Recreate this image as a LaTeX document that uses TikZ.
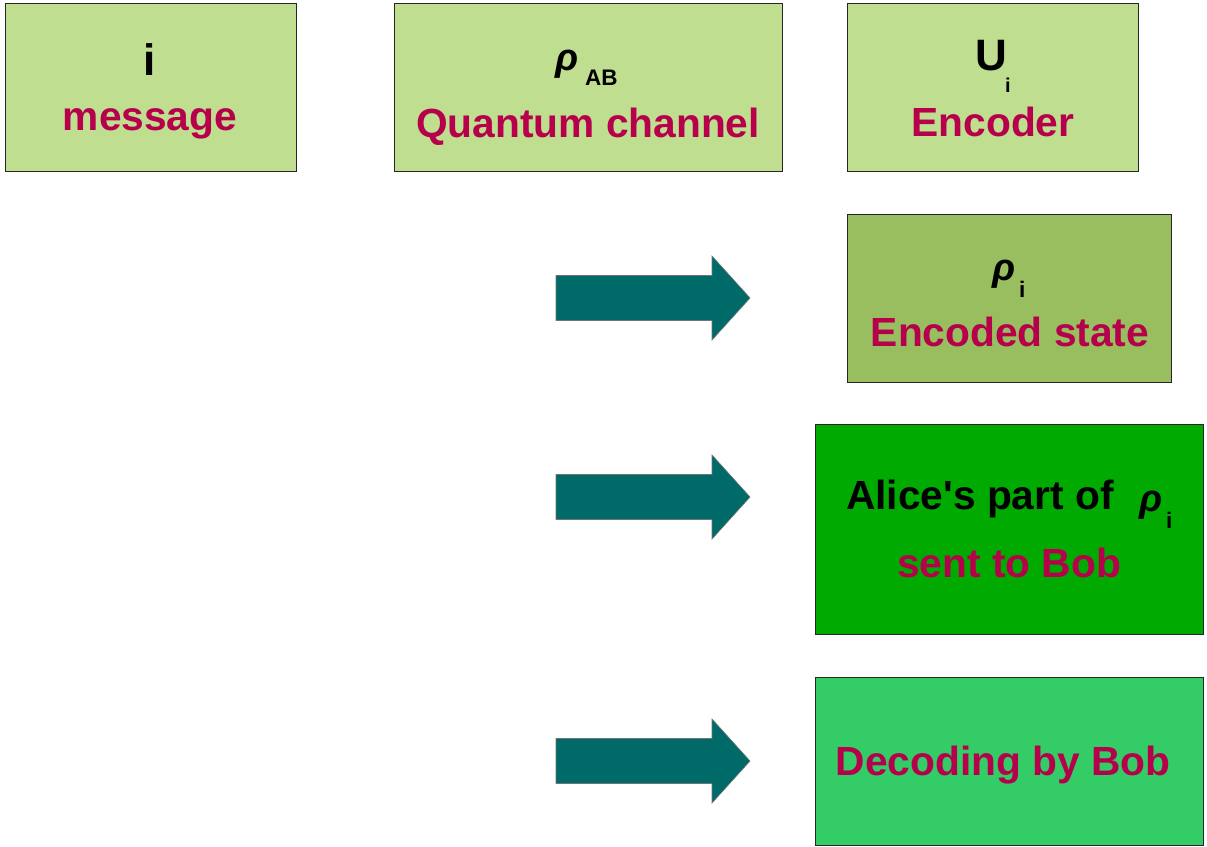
\documentclass[tikz,border=0pt]{standalone}
\usepackage{fontspec}
\setmainfont{Liberation Sans}[Ligatures=TeXOff]
\definecolor{lightgr}{HTML}{C0DE90}
\definecolor{midgr}{HTML}{98BE60}
\definecolor{strgr}{HTML}{00AA00}
\definecolor{mintgr}{HTML}{33CC66}
\definecolor{crim}{RGB}{182,0,76}
\definecolor{tealar}{HTML}{006A68}
\begin{document}
\begin{tikzpicture}[x=1pt,y=-1pt,
  box/.style={draw=black!85, line width=0.8pt, anchor=north west, inner sep=0pt},
  big/.style={font=\fontsize{40.7}{48}\selectfont\bfseries, inner sep=0pt, anchor=base},
  bigb/.style={font=\fontsize{44}{50}\selectfont\bfseries, inner sep=0pt, anchor=base},
  lbl/.style={big, text=crim},
  rho/.style={font=\fontsize{38}{44}\selectfont\bfseries\itshape, inner sep=0pt, anchor=base west},
  subs/.style={font=\fontsize{22.5}{26}\selectfont\bfseries, inner sep=0pt, anchor=base west},
  blockarrow/.style={fill=tealar, draw=black!55, line width=0.6pt}]
\useasboundingbox (0,0) rectangle (1207,846);

% boxes
\node[box, fill=lightgr, minimum width=291pt, minimum height=168pt] (bmsg) at (5,3) {};
\node[box, fill=lightgr, minimum width=388pt, minimum height=168pt] (bchan) at (394,3) {};
\node[box, fill=lightgr, minimum width=291pt, minimum height=168pt] (benc) at (847,3) {};
\node[box, fill=midgr, minimum width=324pt, minimum height=168pt] (bstate) at (847,214) {};
\node[box, fill=strgr, minimum width=388pt, minimum height=210pt] (balice) at (815,424) {};
\node[box, fill=mintgr, minimum width=388pt, minimum height=168pt] (bdec) at (815,677) {};

% box 1
\node[bigb] (ti) at (150,75) {i};
\node[lbl] (tmsg) at (150,130) {message};

% box 2
\node[rho] (rab) at (555,70) {ρ};
\node[subs] (sab) at (585,85) {AB};
\node[lbl] (tchan) at (588,137) {Quantum channel};

% box 3
\node[bigb, anchor=base west] (tu) at (975,70) {U};
\node[subs, font=\fontsize{20}{22}\selectfont\bfseries] (su) at (1005,92) {i};
\node[lbl] (tenc) at (993,136) {Encoder};

% box 4
\node[rho] (ri) at (992,280) {ρ};
\node[subs] (si) at (1019,297) {i};
\node[lbl] (tstate) at (1010,346) {Encoded state};

% box 5
\node[big, anchor=base west] (talice) at (846,509) {Alice's part of};
\node[rho] (ra) at (1139,511) {ρ};
\node[subs] (sa) at (1166,528) {i};
\node[lbl] (tsent) at (1009,577) {sent to Bob};

% box 6
\node[lbl] (tdec) at (1003,775) {Decoding by Bob};

% block arrows
\foreach \cy/\nm in {298/a1, 497/a2, 761/a3}{
  \draw[blockarrow] (556,\cy-22.5) -- (712,\cy-22.5) -- (712,\cy-42) -- (750,\cy)
     -- (712,\cy+42) -- (712,\cy+22.5) -- (556,\cy+22.5) -- cycle;
}
\end{tikzpicture}
\end{document}
